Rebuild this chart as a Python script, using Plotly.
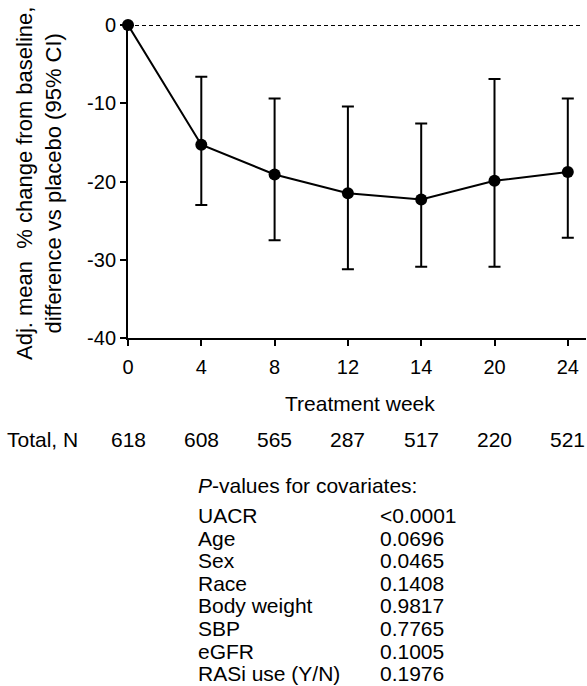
import plotly.graph_objects as go

weeks = ["0", "4", "8", "12", "14", "20", "24"]
mean_diff = [0, -15.3, -19.1, -21.5, -22.3, -19.9, -18.8]
ci_upper = [0, -6.6, -9.4, -10.4, -12.6, -6.9, -9.4]
ci_lower = [0, -23.0, -27.5, -31.2, -30.9, -30.9, -27.2]
total_n = [618, 608, 565, 287, 517, 220, 521]
y_ticks = [0, -10, -20, -30, -40]
y_tick_labels = ["0", "-10", "-20", "-30", "-40"]
covariates = ["UACR", "Age", "Sex", "Race", "Body weight", "SBP", "eGFR", "RASi use (Y/N)"]
p_values = ["<0.0001", "0.0696", "0.0465", "0.1408", "0.9817", "0.7765", "0.1005", "0.1976"]

FONT = "Liberation Sans, Arial, Helvetica, sans-serif"
W, H = 587, 686
L, R, T, B = 128, 1, 25, 348
PW = W - L - R
PH = H - T - B


def px_x(p):
    return (p - L) / PW


def px_y(p):
    return (H - B - p) / PH


idx = list(range(len(weeks)))
err_plus = [u - m for u, m in zip(ci_upper, mean_diff)]
err_minus = [m - l for m, l in zip(mean_diff, ci_lower)]

fig = go.Figure()
fig.add_trace(go.Scatter(
    x=idx, y=mean_diff, mode="lines+markers",
    line=dict(color="black", width=2),
    marker=dict(color="black", size=12),
    error_y=dict(type="data", symmetric=False, array=err_plus, arrayminus=err_minus,
                 color="black", thickness=2, width=6),
    cliponaxis=False, showlegend=False, hoverinfo="skip",
))

x_max = PW / 73.3
fig.add_shape(type="line", xref="x", yref="y", x0=0, x1=x_max - 0.05, y0=0, y1=0,
              line=dict(color="black", width=2, dash="4px,3px"), layer="below")

fig.update_xaxes(range=[0, x_max], tickmode="array", tickvals=idx, ticktext=weeks,
                 showline=True, linecolor="black", linewidth=2, ticks="outside",
                 ticklen=6, tickwidth=2, tickcolor="black", showgrid=False, zeroline=False,
                 ticklabelstandoff=4,
                 tickfont=dict(family=FONT, size=20, color="black"))
fig.update_yaxes(range=[-40, 0], tickmode="array", tickvals=y_ticks, ticktext=y_tick_labels,
                 showline=True, linecolor="black", linewidth=2, ticks="outside",
                 ticklen=6, tickwidth=2, tickcolor="black", showgrid=False, zeroline=False,
                 tickfont=dict(family=FONT, size=20, color="black"))

ann = []
ann.append(dict(text="Adj. mean  % change from baseline,<br>difference vs placebo (95% CI)",
                x=px_x(39), y=px_y(184), xref="paper", yref="paper", textangle=-90,
                showarrow=False, font=dict(family=FONT, size=22, color="black"),
                xanchor="center", yanchor="middle"))
ann.append(dict(text="Treatment week", x=px_x(360), y=px_y(403), xref="paper", yref="paper",
                showarrow=False, font=dict(family=FONT, size=21, color="black"),
                xanchor="center", yanchor="middle"))
ann.append(dict(text="Total, N", x=px_x(5), y=px_y(439), xref="paper", yref="paper",
                showarrow=False, font=dict(family=FONT, size=21, color="black"),
                xanchor="left", yanchor="middle"))
for i, n in enumerate(total_n):
    ann.append(dict(text=str(n), x=i, y=px_y(439), xref="x", yref="paper",
                    showarrow=False, font=dict(family=FONT, size=21, color="black"),
                    xanchor="center", yanchor="middle"))
ann.append(dict(text="<i>P</i>-values for covariates:", x=px_x(196), y=px_y(485),
                xref="paper", yref="paper", showarrow=False,
                font=dict(family=FONT, size=21, color="black"), xanchor="left", yanchor="middle"))
for i, (c, p) in enumerate(zip(covariates, p_values)):
    yy = px_y(515.5 + i * 22.6)
    ann.append(dict(text=c, x=px_x(196), y=yy, xref="paper", yref="paper", showarrow=False,
                    font=dict(family=FONT, size=21, color="black"), xanchor="left", yanchor="middle"))
    ann.append(dict(text=p, x=px_x(378), y=yy, xref="paper", yref="paper", showarrow=False,
                    font=dict(family=FONT, size=21, color="black"), xanchor="left", yanchor="middle"))

fig.update_layout(width=W, height=H, margin=dict(l=L, r=R, t=T, b=B),
                  plot_bgcolor="white", paper_bgcolor="white", annotations=ann,
                  font=dict(family=FONT, color="black"))

fig.write_html("out.html", config={"displayModeBar": False},
               post_script="document.body.style.margin='0px';document.body.style.overflow='hidden';")
